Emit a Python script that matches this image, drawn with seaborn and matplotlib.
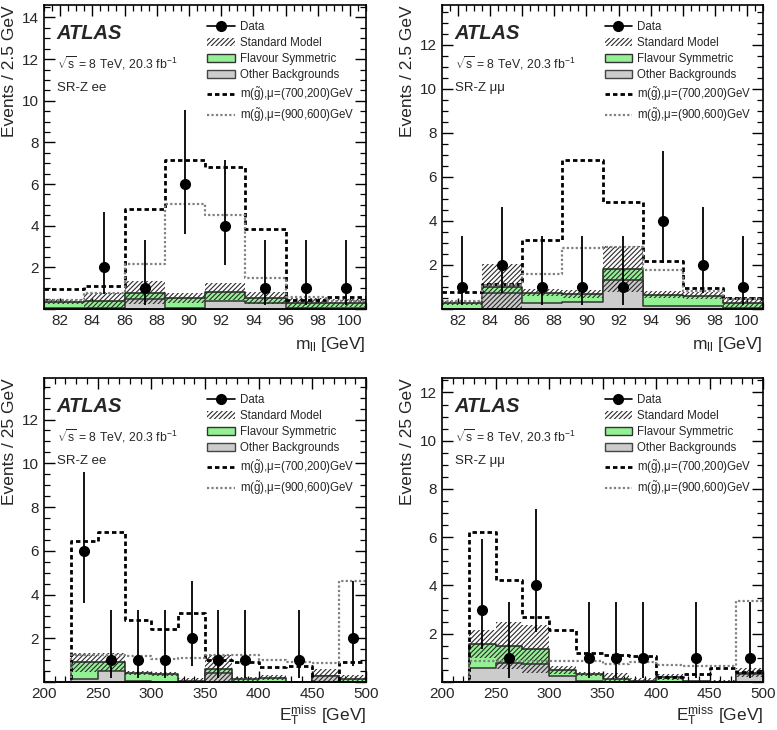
import numpy as np
import pandas as pd
import matplotlib
matplotlib.use('Agg')
import matplotlib.pyplot as plt
import seaborn as sns
from matplotlib.lines import Line2D
from matplotlib.patches import Patch
from matplotlib.ticker import MultipleLocator, FuncFormatter

sns.set_theme(style='ticks')
plt.rcParams['font.family'] = ['Liberation Sans', 'DejaVu Sans']
plt.rcParams['mathtext.fontset'] = 'custom'
plt.rcParams['mathtext.rm'] = 'Liberation Sans'
plt.rcParams['mathtext.it'] = 'Liberation Sans:italic'
plt.rcParams['mathtext.bf'] = 'Liberation Sans:bold'
plt.rcParams['hatch.linewidth'] = 0.8

# binning
mll_edges = [81, 83.5, 86, 88.5, 91, 93.5, 96, 98.5, 101]
met_edges = [200, 225, 250, 275, 300, 325, 350, 375, 400, 425, 450, 475, 500]

# SR-Z ee, m_ll
ee_mll_other = [0.05, 0.05, 0.50, 0.05, 0.40, 0.29, 0.05, 0.05]
ee_mll_fs = [0.30, 0.32, 0.29, 0.48, 0.44, 0.24, 0.25, 0.25]
ee_mll_err = [0.12, 0.40, 0.55, 0.26, 0.43, 0.29, 0.25, 0.18]
ee_mll_sig1 = [0.95, 1.12, 4.79, 7.15, 6.80, 3.82, 0.42, 0.56]
ee_mll_sig2 = [0.42, 0.75, 2.15, 5.05, 4.51, 1.49, 0.60, 0.40]
ee_mll_data = [0, 2, 1, 6, 4, 1, 1, 1]

# SR-Z mumu, m_ll
mm_mll_other = [0.02, 0.71, 0.26, 0.30, 1.32, 0.15, 0.15, 0.05]
mm_mll_fs = [0.25, 0.30, 0.48, 0.38, 0.50, 0.50, 0.45, 0.22]
mm_mll_err = [0.11, 1.03, 0.16, 0.18, 1.05, 0.15, 0.16, 0.26]
mm_mll_sig1 = [0.76, 1.14, 3.15, 6.77, 4.86, 2.18, 0.94, 0.50]
mm_mll_sig2 = [0.35, 1.10, 1.58, 2.79, 2.80, 1.77, 0.80, 0.45]
mm_mll_data = [1, 2, 1, 1, 1, 4, 2, 1]

# SR-Z ee, E_T^miss
ee_met_other = [0, 0.14, 0.52, 0.05, 0.02, 0.02, 0.40, 0.02, 0.02, 0.0, 0.29, 0.02]
ee_met_fs = [0, 0.76, 0.38, 0.35, 0.35, 0.03, 0.20, 0.12, 0.18, 0.02, 0.0, 0.10]
ee_met_err = [0, 0.44, 0.41, 0.10, 0.10, 0.12, 0.62, 0.11, 0.10, 0.04, 0.29, 0.18]
ee_met_sig1 = [0, 6.46, 6.84, 2.84, 2.41, 3.14, 1.00, 0.90, 0.70, 0.72, 0.0, 0.93]
ee_met_sig2 = [0, 1.25, 1.22, 1.19, 1.05, 1.08, 1.22, 1.22, 1.00, 0.90, 0.89, 4.63]
ee_met_data = [0, 6, 1, 1, 1, 2, 1, 1, 0, 1, 0, 2]

# SR-Z mumu, E_T^miss
mm_met_other = [0, 0.57, 0.80, 0.73, 0.25, 0.05, 0.02, 0.02, 0.02, 0.02, 0.0, 0.33]
mm_met_fs = [0, 1.01, 0.71, 0.63, 0.25, 0.28, 0.10, 0.03, 0.18, 0.02, 0.0, 0.05]
mm_met_err = [0, 0.58, 0.96, 0.99, 0.16, 0.07, 0.24, 0.10, 0.13, 0.02, 0.08, 0.19]
mm_met_sig1 = [0, 6.20, 4.24, 2.69, 2.16, 1.19, 1.10, 1.07, 0.20, 0.33, 0.57, 0.43]
mm_met_sig2 = [0, 0.85, 0.85, 0.85, 0.85, 0.87, 0.76, 0.83, 0.70, 0.67, 0.66, 3.34]
mm_met_data = [0, 3, 1, 4, 0, 1, 1, 1, 0, 1, 0, 1]

poisson_err = {1: (0.83, 2.30), 2: (1.29, 2.64), 3: (1.63, 2.92), 4: (1.91, 3.16), 6: (2.38, 3.58)}

green = '#94f094'
grey = '#cccccc'
hatch = '///////'


def step_hist(ax, centers, values, edges, **kws):
    df = pd.DataFrame({'x': centers, 'w': np.asarray(values, dtype=float)})
    sns.histplot(data=df, x='x', weights='w', bins=list(edges), element='step', ax=ax, **kws)


def draw_panel(ax, edges, other, fs, err, sig1, sig2, data, ytop, region, ylabel, xlabel,
               xmajor, xminor, xlab_y):
    edges = np.array(edges, dtype=float)
    centers = 0.5 * (edges[1:] + edges[:-1])
    other = np.array(other)
    total = other + np.array(fs)
    err = np.array(err)

    # flavour symmetric stacked on top of other backgrounds
    step_hist(ax, centers, total, edges, fill=True, color=green, alpha=1,
              edgecolor='#222222', linewidth=1.1)
    step_hist(ax, centers, other, edges, fill=True, color=grey, alpha=1,
              edgecolor='#333333', linewidth=1.1)

    # SM uncertainty band
    lo = np.clip(total - err, 0, None)
    hi = total + err
    ax.fill_between(edges, np.append(lo, lo[-1]), np.append(hi, hi[-1]), step='post',
                    facecolor='none', edgecolor='#2a2a2a', hatch=hatch, linewidth=0)

    # signal models
    step_hist(ax, centers, sig1, edges, fill=False, color='black',
              linestyle=(0, (1.6, 1.1)), linewidth=2.0)
    step_hist(ax, centers, sig2, edges, fill=False, color='#808080',
              linestyle=(0, (1, 1)), linewidth=1.6)

    # data
    data = np.array(data)
    mask = data > 0
    yerr = np.array([poisson_err[int(n)] for n in data[mask]]).T
    ax.errorbar(centers[mask], data[mask], yerr=yerr, fmt='o', color='black',
                ms=7, elinewidth=1.3, capsize=0, zorder=5)

    ax.set_xlim(edges[0], edges[-1])
    ax.set_ylim(0, ytop)
    ax.xaxis.set_major_locator(MultipleLocator(xmajor))
    ax.xaxis.set_minor_locator(MultipleLocator(xminor))
    ax.yaxis.set_major_locator(MultipleLocator(2))
    ax.yaxis.set_minor_locator(MultipleLocator(0.5))
    ax.yaxis.set_major_formatter(FuncFormatter(lambda v, p: '' if v == 0 else f'{v:g}'))
    ax.tick_params(which='both', direction='in', top=True, right=True, labelsize=11, color='black')
    ax.tick_params(which='major', length=8, width=1)
    ax.tick_params(which='minor', length=4, width=0.9)
    for s in ax.spines.values():
        s.set_color('black')
        s.set_linewidth(1.2)

    ax.set_ylabel(ylabel, fontsize=12.5, loc='top')
    ax.yaxis.set_label_coords(-0.085, 1.0)
    ax.set_xlabel(xlabel, fontsize=12.5, loc='right')
    ax.xaxis.set_label_coords(1.0, xlab_y)

    ax.text(0.04, 0.905, 'ATLAS', transform=ax.transAxes, fontsize=14.5,
            fontweight='bold', fontstyle='italic', va='center')
    ax.text(0.04, 0.81, r'$\sqrt{\mathrm{s}}$ = 8 TeV, 20.3 fb$^{-1}$', transform=ax.transAxes,
            fontsize=8.8, va='center')
    ax.text(0.04, 0.727, region, transform=ax.transAxes, fontsize=9.5, va='center')

    handles = [
        Line2D([0], [0], color='black', marker='o', ms=7, lw=1.2),
        Patch(facecolor='white', edgecolor='#2a2a2a', hatch=hatch, linewidth=0),
        Patch(facecolor=green, edgecolor='#333333', linewidth=1),
        Patch(facecolor=grey, edgecolor='#444444', linewidth=1),
        Line2D([0], [0], color='black', linestyle=(0, (1.6, 1.1)), lw=2.0),
        Line2D([0], [0], color='#808080', linestyle=(0, (1, 1)), lw=1.6),
    ]
    labels = ['Data', 'Standard Model', 'Flavour Symmetric', 'Other Backgrounds',
              r'm($\tilde{\mathrm{g}}$),$\mathrm{\mu}$=(700,200)GeV',
              r'm($\tilde{\mathrm{g}}$),$\mathrm{\mu}$=(900,600)GeV']
    ax.legend(handles, labels, loc='upper left', bbox_to_anchor=(0.485, 0.97), frameon=False,
              fontsize=8.3, handlelength=2.4, labelspacing=0.36, handletextpad=0.45,
              borderaxespad=0.2)


fig = plt.figure(figsize=(7.77, 7.30), dpi=100)
fig.patch.set_facecolor('white')
ax_tl = fig.add_axes([44 / 777, 1 - 309 / 730, 322 / 777, 304 / 730])
ax_tr = fig.add_axes([442 / 777, 1 - 309 / 730, 321 / 777, 304 / 730])
ax_bl = fig.add_axes([44 / 777, 1 - 682 / 730, 322 / 777, 304 / 730])
ax_br = fig.add_axes([442 / 777, 1 - 682 / 730, 321 / 777, 304 / 730])

mll_label = r'$\mathrm{m}_{\mathrm{ll}}$ [GeV]'
met_label = r'$\mathrm{E}_{\mathrm{T}}^{\mathrm{miss}}$ [GeV]'

draw_panel(ax_tl, mll_edges, ee_mll_other, ee_mll_fs, ee_mll_err, ee_mll_sig1, ee_mll_sig2,
           ee_mll_data, 14.6, 'SR-Z ee', 'Events / 2.5 GeV', mll_label, 2, 0.5, -0.085)
draw_panel(ax_tr, mll_edges, mm_mll_other, mm_mll_fs, mm_mll_err, mm_mll_sig1, mm_mll_sig2,
           mm_mll_data, 13.8, 'SR-Z μμ', 'Events / 2.5 GeV', mll_label, 2, 0.5, -0.085)
draw_panel(ax_bl, met_edges, ee_met_other, ee_met_fs, ee_met_err, ee_met_sig1, ee_met_sig2,
           ee_met_data, 13.9, 'SR-Z ee', 'Events / 25 GeV', met_label, 50, 10, -0.072)
draw_panel(ax_br, met_edges, mm_met_other, mm_met_fs, mm_met_err, mm_met_sig1, mm_met_sig2,
           mm_met_data, 12.6, 'SR-Z μμ', 'Events / 25 GeV', met_label, 50, 10, -0.072)

fig.savefig('out.png', dpi=100, facecolor='white')
